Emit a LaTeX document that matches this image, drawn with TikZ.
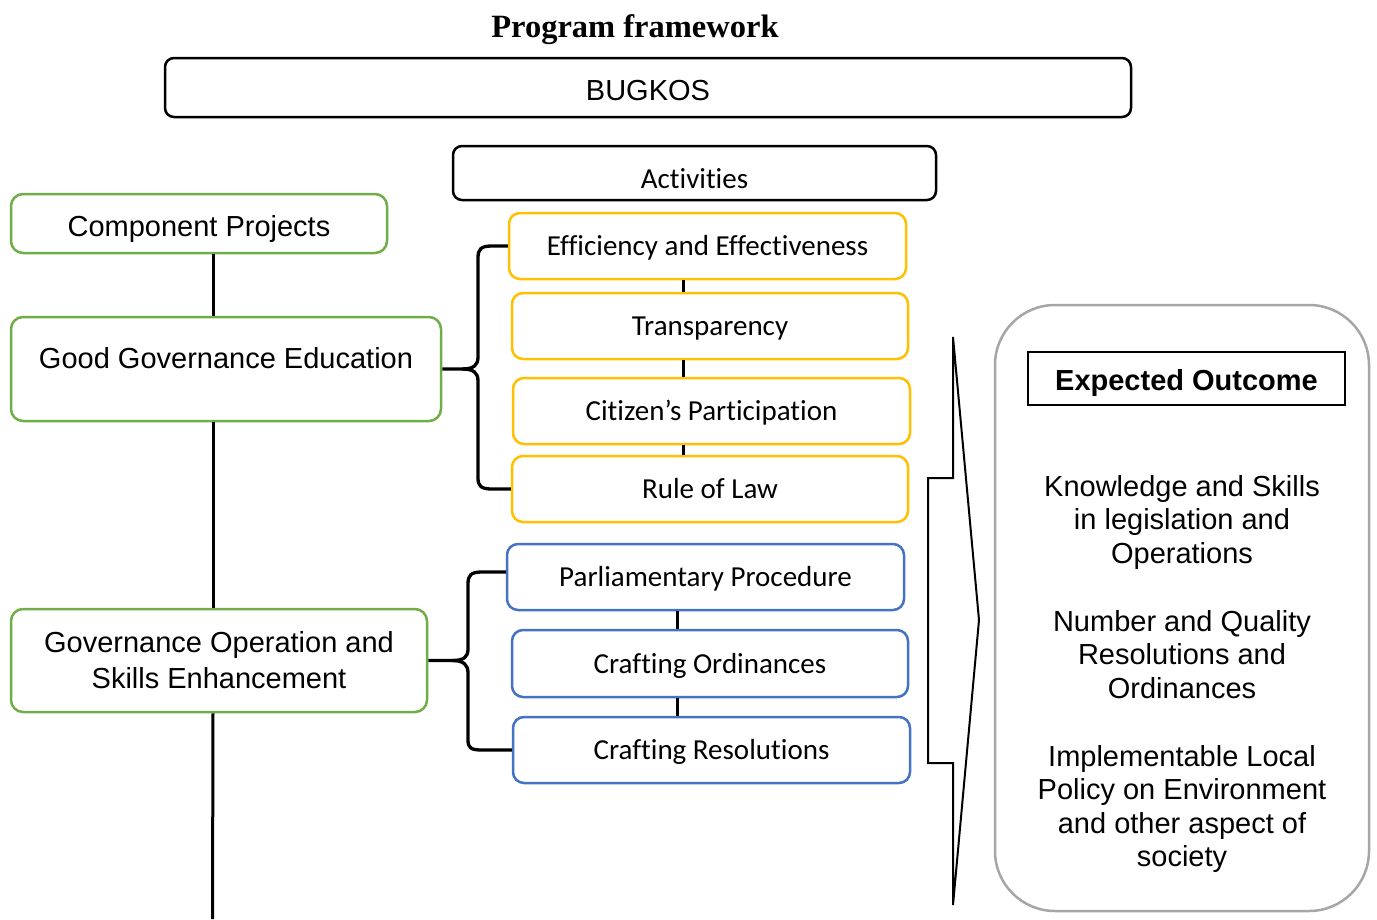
\documentclass[tikz,border=0pt]{standalone}
\usepackage{fontspec}
\setmainfont{Liberation Sans}
\newfontfamily\calfont[Ligatures=NoCommon]{Carlito}
\newfontfamily\timesfont{Liberation Serif}
\definecolor{cgreen}{HTML}{70AD47}
\definecolor{cyellow}{HTML}{FFC000}
\definecolor{cblue}{HTML}{4472C4}
\definecolor{cgray}{HTML}{A6A6A6}
\newcommand\fsz{\fontsize{29}{33.5}\selectfont}
\begin{document}
\begin{tikzpicture}[x=1pt,y=-1pt,
  basebox/.style={rectangle, inner sep=0pt, font=\fsz},
  tpos/.style={text height=#1, text depth=0pt},
  blackbox/.style={basebox, draw=black, line width=2.5pt, rounded corners=9pt},
  greenbox/.style={basebox, draw=cgreen, line width=2.5pt, rounded corners=12pt},
  ybox/.style={basebox, draw=cyellow, line width=2.5pt, rounded corners=11pt, font=\calfont\fsz, tpos=19.6pt},
  bbox/.style={basebox, draw=cblue, line width=2.5pt, rounded corners=11pt, font=\calfont\fsz, tpos=19.6pt},
  otext/.style={align=center, inner sep=0pt, font=\fsz},
  link/.style={line width=3pt},
  bracepath/.style={line width=3.3pt, line join=round},
]
\useasboundingbox (0,0) rectangle (1377,919);

% title
\node[font=\timesfont\bfseries\fontsize{32.5}{36}\selectfont, anchor=base] (title) at (635,37.5) {Program framework};

% top boxes
\node[blackbox, minimum width=966pt, minimum height=59pt, tpos=25.8pt] (bugkos) at (648,87.5) {BUGKOS};
\node[blackbox, font=\calfont\fsz, minimum width=483pt, minimum height=54pt, tpos=30.6pt] (act) at (694.5,173) {Activities};

% left column
\node[greenbox, minimum width=376pt, minimum height=59pt, tpos=25.8pt] (cp) at (199,223.5) {Component Projects};
\node[greenbox, minimum width=430pt, minimum height=104pt, text height=0pt, text depth=1.2pt] (gge) at (226,369) {Good Governance Education};
\node[greenbox, minimum width=416pt, minimum height=103pt, align=center, font=\fontsize{29}{36}\selectfont] (gose) at (219,660.5) {Governance Operation and\\Skills Enhancement};

% activities (yellow)
\node[ybox, minimum width=397pt, minimum height=66pt] (eff) at (707.5,246) {Efficiency and Effectiveness};
\node[ybox, minimum width=396pt, minimum height=66pt] (trans) at (710,326) {Transparency};
\node[ybox, minimum width=397pt, minimum height=66pt] (cit) at (711.5,411) {Citizen’s Participation};
\node[ybox, minimum width=396pt, minimum height=66pt] (rol) at (710,489) {Rule of Law};

% activities (blue)
\node[bbox, minimum width=397pt, minimum height=66pt] (parl) at (705.5,577) {Parliamentary Procedure};
\node[bbox, minimum width=396pt, minimum height=67pt] (cord) at (710,663.5) {Crafting Ordinances};
\node[bbox, minimum width=397pt, minimum height=66pt] (cres) at (711.5,750) {Crafting Resolutions};

% outcome
\node[draw=cgray, line width=2.5pt, rounded corners=60pt, minimum width=374pt, minimum height=606pt, inner sep=0pt] (ob) at (1182,608) {};
\node[draw=black, line width=1.3pt, minimum width=317pt, minimum height=53pt, inner sep=0pt, font=\bfseries\fsz, tpos=23.8pt] (eo) at (1186.5,378.5) {Expected Outcome};
\node[otext] (o1) at (1182,522.4) {Knowledge and Skills\\in legislation and\\Operations};
\node[otext] (o2) at (1182,654.4) {Number and Quality\\Resolutions and\\Ordinances};
\node[otext] (o3) at (1182,809.2) {Implementable Local\\Policy on Environment\\and other aspect of\\society};

% connectors
\coordinate (yx) at (683,0);
\coordinate (bx) at (677,0);
\coordinate (vx) at (213,0);
\coordinate (bottom) at (212.5,919);
\draw[link] (eff.south -| yx) -- (trans.north -| yx);
\draw[link] (trans.south -| yx) -- (cit.north -| yx);
\draw[link] (cit.south -| yx) -- (rol.north -| yx);
\draw[link] (parl.south -| bx) -- (cord.north -| bx);
\draw[link] (cord.south -| bx) -- (cres.north -| bx);
\draw[link] (cp.south -| vx) -- (gge.north -| vx);
\draw[link] (gge.south -| vx) -- (gose.north -| vx);
\draw[link] (gose.south -| vx) -- (bottom);

% braces
\draw[bracepath] (eff.west) -- (492,246) .. controls (481,246) and (478,249) .. (478,258) -- (478,357) .. controls (478,365) and (474,369) .. (462,369) -- (gge.east);
\draw[bracepath] (462,369) .. controls (474,369) and (478,373) .. (478,381) -- (478,478) .. controls (478,486) and (481,489) .. (492,489) -- (rol.west);
\draw[bracepath] ([yshift=5pt]parl.west) -- (482,572) .. controls (471,572) and (468,575) .. (468,584) -- (468,649) .. controls (468,657) and (464,660.5) .. (452,660.5) -- (gose.east);
\draw[bracepath] (452,660.5) .. controls (464,660.5) and (468,665) .. (468,673) -- (468,740) .. controls (468,748) and (471,750) .. (482,750) -- (cres.west);

% chevron arrow
\draw[line width=2pt, line join=miter] (953,337) -- (979,620) -- (953,905) -- (953,763) -- (928,763) -- (928,478) -- (953,478) -- cycle;
\end{tikzpicture}
\end{document}
